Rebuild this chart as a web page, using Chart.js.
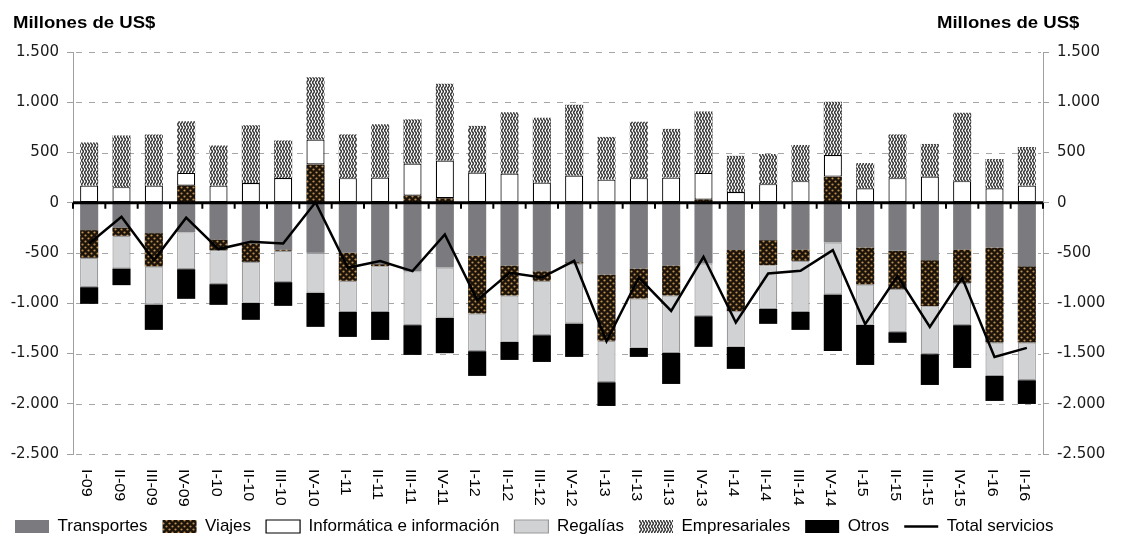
<!DOCTYPE html>
<html lang="es">
<head>
<meta charset="utf-8">
<title>Servicios</title>
<script src="https://cdn.jsdelivr.net/npm/chart.js@4.4.1/dist/chart.umd.min.js"></script>
<style>
  html, body { margin: 0; padding: 0; background: #ffffff; }
  #wrap { position: relative; width: 1121px; height: 545px; }
</style>
</head>
<body>
<div id="wrap"><canvas id="c" width="1121" height="545"></canvas></div>
<script>
const categories = ['I-09','II-09','III-09','IV-09','I-10','II-10','III-10','IV-10','I-11','II-11','III-11','IV-11','I-12','II-12','III-12','IV-12','I-13','II-13','III-13','IV-13','I-14','II-14','III-14','IV-14','I-15','II-15','III-15','IV-15','I-16','II-16'];
const transportes = [-272,-246,-302,-295,-365,-405,-465,-498,-498,-611,-681,-644,-525,-624,-681,-591,-714,-654,-624,-604,-471,-372,-465,-395,-445,-478,-571,-465,-445,-631];
const viajes = [-276,-83,-332,170,-106,-183,-13,380,-279,-20,70,45,-577,-299,-96,-13,-660,-299,-299,30,-608,-249,-113,260,-368,-379,-458,-332,-946,-760];
const informatica = [170,155,170,127,170,197,247,250,245,250,320,375,300,290,200,270,230,245,250,267,107,185,215,215,145,245,260,215,145,170];
const regalias = [-292,-325,-379,-366,-339,-408,-312,-398,-309,-455,-537,-501,-375,-461,-541,-598,-412,-491,-571,-525,-355,-435,-508,-518,-402,-431,-478,-421,-332,-375];
const empresariales = [430,515,510,513,400,573,373,620,435,530,440,765,465,610,645,705,425,560,485,610,360,300,360,530,250,435,325,680,290,385];
const otros = [-166,-166,-252,-295,-206,-169,-236,-339,-249,-279,-296,-352,-246,-180,-266,-332,-236,-90,-309,-305,-219,-149,-179,-561,-399,-106,-306,-426,-249,-236];
const totalServicios = [-405,-140,-571,-149,-461,-388,-405,5,-647,-581,-681,-315,-969,-697,-744,-578,-1378,-744,-1076,-538,-1192,-704,-677,-471,-1208,-730,-1235,-747,-1534,-1444];
const yTicks = [1500,1000,500,0,-500,-1000,-1500,-2000,-2500];
const axisTitle = 'Millones de US$';

function fmt(v) {
  const a = Math.abs(v);
  const s = a >= 1000 ? Math.floor(a / 1000) + '.' + String(a % 1000).padStart(3, '0') : String(a);
  return (v < 0 ? '-' : '') + s;
}

function makeViajes() {
  const c = document.createElement('canvas'); c.width = 6; c.height = 6;
  const g = c.getContext('2d');
  g.fillStyle = '#1c140b'; g.fillRect(0, 0, 6, 6);
  g.fillStyle = '#bf8f50';
  g.beginPath(); g.arc(1.5, 1.5, 1.1, 0, Math.PI * 2); g.fill();
  g.beginPath(); g.arc(4.5, 4.5, 1.1, 0, Math.PI * 2); g.fill();
  return g.createPattern(c, 'repeat');
}
function makeEmp() {
  const c = document.createElement('canvas'); c.width = 3; c.height = 6;
  const g = c.getContext('2d');
  g.fillStyle = '#ffffff'; g.fillRect(0, 0, 3, 6);
  g.strokeStyle = '#333333'; g.lineWidth = 1.5;
  g.beginPath();
  for (let yy = -1; yy <= 7; yy += 0.25) {
    const xx = 1.5 + 0.8 * Math.sin(2 * Math.PI * yy / 6);
    if (yy === -1) g.moveTo(xx, yy); else g.lineTo(xx, yy);
  }
  g.stroke();
  return g.createPattern(c, 'repeat');
}

const decor = {
  id: 'decor',
  beforeDatasetsDraw(chart) {
    const { ctx, chartArea: a, scales: { y } } = chart;
    ctx.save();
    ctx.strokeStyle = '#a6a6a6'; ctx.lineWidth = 1;
    ctx.beginPath();
    yTicks.forEach(v => {
      if (v === 0) return;
      const py = Math.round(y.getPixelForValue(v)) + 0.5;
      for (let sx = a.left + 3; sx < a.right - 2; sx += 13) {
        ctx.moveTo(sx, py); ctx.lineTo(Math.min(sx + 6, a.right - 2), py);
      }
    });
    ctx.stroke();
    ctx.restore();
  },
  afterDatasetsDraw(chart) {
    const { ctx, chartArea: a, scales: { x, y } } = chart;
    const y0 = y.getPixelForValue(0);
    const half = (x.getPixelForValue(1) - x.getPixelForValue(0)) / 2;
    ctx.save();
    ctx.strokeStyle = '#000'; ctx.lineWidth = 3;
    ctx.beginPath(); ctx.moveTo(a.left, y0); ctx.lineTo(a.right, y0); ctx.stroke();
    ctx.lineWidth = 2;
    ctx.beginPath();
    for (let i = 0; i <= categories.length; i++) {
      const px = x.getPixelForValue(i) - half;
      ctx.moveTo(px, y0); ctx.lineTo(px, y0 + 6);
    }
    ctx.stroke();
    ctx.restore();
  },
  afterDraw(chart) {
    const { ctx, chartArea: a, scales: { x } } = chart;
    ctx.save();
    ctx.fillStyle = '#000';
    ctx.font = '14px "Liberation Sans", Arial, sans-serif';
    ctx.textAlign = 'left'; ctx.textBaseline = 'middle';
    categories.forEach((lab, i) => {
      const px = x.getPixelForValue(i) - 3;
      ctx.save();
      ctx.translate(px, a.bottom + 15);
      ctx.rotate(Math.PI / 2);
      ctx.scale(1.15, 1);
      ctx.fillText(lab, 0, 0);
      ctx.restore();
    });
    ctx.font = 'bold 16px "Liberation Sans", Arial, sans-serif';
    ctx.textBaseline = 'alphabetic';
    [[13, 28], [937, 28]].forEach(([tx, ty]) => {
      ctx.save(); ctx.translate(tx, ty); ctx.scale(1.16, 1);
      ctx.fillText(axisTitle, 0, 0); ctx.restore();
    });
    ctx.restore();
  }
};

const tickFont = { family: '"DejaVu Sans", sans-serif', size: 15 };

new Chart(document.getElementById('c'), {
  data: {
    labels: categories,
    datasets: [
      { type: 'bar', label: 'Transportes', data: transportes, backgroundColor: '#7a7a7f', borderWidth: 0, order: 1 },
      { type: 'bar', label: 'Viajes', data: viajes, backgroundColor: makeViajes(), borderWidth: 0, order: 1 },
      { type: 'bar', label: 'Informática e información', data: informatica, backgroundColor: '#ffffff', borderColor: '#000000', borderWidth: 1.2, order: 1 },
      { type: 'bar', label: 'Regalías', data: regalias, backgroundColor: '#d1d2d4', borderColor: '#9a9a9c', borderWidth: 1.2, order: 1 },
      { type: 'bar', label: 'Empresariales', data: empresariales, backgroundColor: makeEmp(), borderWidth: 0, order: 1 },
      { type: 'bar', label: 'Otros', data: otros, backgroundColor: '#000000', borderWidth: 0, order: 1 },
      { type: 'line', label: 'Total servicios', data: totalServicios, borderColor: '#000000', backgroundColor: '#000000', borderWidth: 2.5, pointRadius: 0, tension: 0, stack: 'total', order: 0 }
    ]
  },
  options: {
    responsive: false,
    animation: false,
    devicePixelRatio: 1,
    layout: { padding: { top: 52, left: 0, right: 0, bottom: 0 } },
    datasets: { bar: { barPercentage: 0.56, categoryPercentage: 1.0, borderSkipped: false } },
    scales: {
      x: {
        stacked: true,
        grid: { display: false },
        border: { display: false },
        ticks: { display: false },
        afterFit: s => { s.height = 49; }
      },
      y: {
        stacked: true,
        position: 'left',
        min: -2500, max: 1500,
        afterBuildTicks: s => { s.ticks = yTicks.map(v => ({ value: v })); },
        ticks: { callback: v => fmt(v), font: tickFont, color: '#1a1a1a', padding: 8 },
        grid: { color: 'rgba(0,0,0,0)', tickColor: '#a0a0a0', tickLength: 6 },
        border: { display: true, color: '#a0a0a0', width: 1 },
        afterFit: s => { s.width = 73; }
      },
      y2: {
        position: 'right',
        min: -2500, max: 1500,
        afterBuildTicks: s => { s.ticks = yTicks.map(v => ({ value: v })); },
        ticks: { callback: v => fmt(v), font: tickFont, color: '#1a1a1a', padding: 8 },
        grid: { drawOnChartArea: false, color: '#a0a0a0', tickLength: 6 },
        border: { display: true, color: '#a0a0a0', width: 1 },
        afterFit: s => { s.width = 78; }
      }
    },
    plugins: {
      tooltip: { enabled: false },
      legend: {
        position: 'bottom',
        align: 'start',
        labels: {
          font: { family: '"Liberation Sans", Arial, sans-serif', size: 17 },
          color: '#000',
          usePointStyle: true,
          pointStyleWidth: 34,
          boxWidth: 34,
          boxHeight: 13,
          padding: 15,
          sort: (a, b) => a.datasetIndex - b.datasetIndex,
          generateLabels: chart => {
            const items = Chart.defaults.plugins.legend.labels.generateLabels(chart);
            items.forEach(it => {
              if (it.datasetIndex === 6) { it.pointStyle = 'line'; it.lineWidth = 2.5; it.strokeStyle = '#000'; }
              else { it.pointStyle = 'rect'; }
            });
            return items;
          }
        }
      }
    }
  },
  plugins: [decor]
});
</script>
</body>
</html>
